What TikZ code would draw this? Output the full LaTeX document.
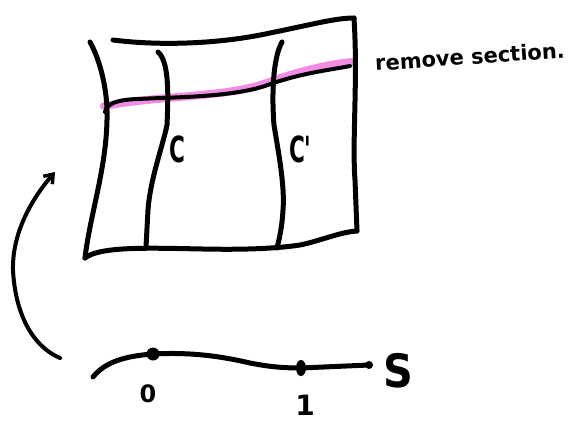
\documentclass[tikz,border=0pt]{standalone}
\usepackage{fontspec}
\newfontfamily\handfont{DejaVu Sans}
\usetikzlibrary{arrows.meta}
\definecolor{hlpink}{RGB}{243,140,228}
\tikzset{
  ink/.style={line width=5pt, line cap=round, line join=round, black},
  thinink/.style={line width=4pt, line cap=round, line join=round, black},
  highlight/.style={line width=8pt, line cap=round, hlpink},
  lbl/.style={inner sep=0pt, font=\handfont\bfseries},
}
\begin{document}
\begin{tikzpicture}[x=1pt,y=-1pt]
\useasboundingbox (0,0) rectangle (587,421);
% highlight (under the section line)
\coordinate (hl1) at (104,106);
\coordinate (hl2) at (352,62);
\draw[highlight] (hl1) .. controls (170,94) and (230,98) .. (272,81)
  .. controls (300,71) and (330,64) .. (hl2);
% sheet outline
\coordinate (tl) at (113,40);
\coordinate (tr) at (354,18);
\coordinate (br) at (357,231);
\coordinate (bl) at (85,258);
\coordinate (lt) at (90,42);
\draw[ink] (tl) .. controls (160,46) and (220,44) .. (270,33)
  .. controls (310,25) and (335,18) .. (tr);
\draw[ink] (tr) .. controls (358,80) and (352,140) .. (355,180) -- (br);
\draw[ink] (lt) .. controls (100,60) and (108,90) .. (107,120)
  .. controls (106,170) and (90,215) .. (bl);
\draw[ink] (bl) .. controls (100,246) and (150,248) .. (203,249)
  .. controls (250,250) and (280,248) .. (300,245)
  .. controls (320,241) and (340,232) .. (br);
% curves c and c'
\coordinate (c1) at (158,52);
\coordinate (c2) at (146,247);
\draw[ink] (c1) .. controls (170,62) and (168,100) .. (167,125)
  .. controls (163,145) and (150,180) .. (148,210) -- (c2);
\coordinate (d1) at (282,42);
\coordinate (d2) at (277,248);
\draw[ink] (d1) .. controls (272,60) and (272,100) .. (274,125)
  .. controls (278,150) and (285,185) .. (283,210)
  .. controls (282,228) and (279,240) .. (d2);
% section line
\coordinate (s1) at (105,112);
\coordinate (s2) at (350,66);
\draw[thinink] (s1) .. controls (107,104) and (115,100) .. (137,99)
  .. controls (180,97) and (230,97) .. (265,86)
  .. controls (300,73) and (330,70) .. (s2);
% labels
\node[lbl, font=\handfont\bfseries\fontsize{36}{36}\selectfont, xscale=0.6] (lc) at (177,149) {C};
\node[lbl, font=\handfont\bfseries\fontsize{36}{36}\selectfont, xscale=0.6, anchor=west] (lcp) at (289,149) {C\char"27};
\node[lbl, font=\handfont\bfseries\fontsize{21}{21}\selectfont, rotate=4, anchor=west] (rm) at (375,63) {remove section.};
% left arrow
\coordinate (a1) at (60,358);
\coordinate (a2) at (55,172);
\draw[ink, line width=4pt, -{Straight Barb[length=8pt,width=12pt,line width=3.5pt]}] (a1) .. controls (30,345) and (15,310) .. (13,270)
  .. controls (12,230) and (35,195) .. (a2);
% number line
\coordinate (n0) at (93,377);
\coordinate (p0) at (153,354);
\coordinate (p1) at (301,368);
\coordinate (ne) at (369,365);
\draw[ink] (n0) .. controls (105,362) and (125,356) .. (p0)
  .. controls (190,352) and (220,356) .. (250,363)
  .. controls (270,367) and (285,368) .. (p1) -- (ne);
\fill (p0) circle (6.5pt);
\fill (p1) ellipse (5pt and 8pt);
\fill (ne) circle (4pt);
\node[lbl, font=\handfont\bfseries\fontsize{24}{24}\selectfont] (l0) at (148,394) {0};
\node[lbl, font=\handfont\bfseries\fontsize{28}{28}\selectfont] (l1) at (305,405) {1};
\node[lbl, font=\handfont\bfseries\fontsize{46}{46}\selectfont, xscale=0.9] (ls) at (398,371) {S};
\end{tikzpicture}
\end{document}
